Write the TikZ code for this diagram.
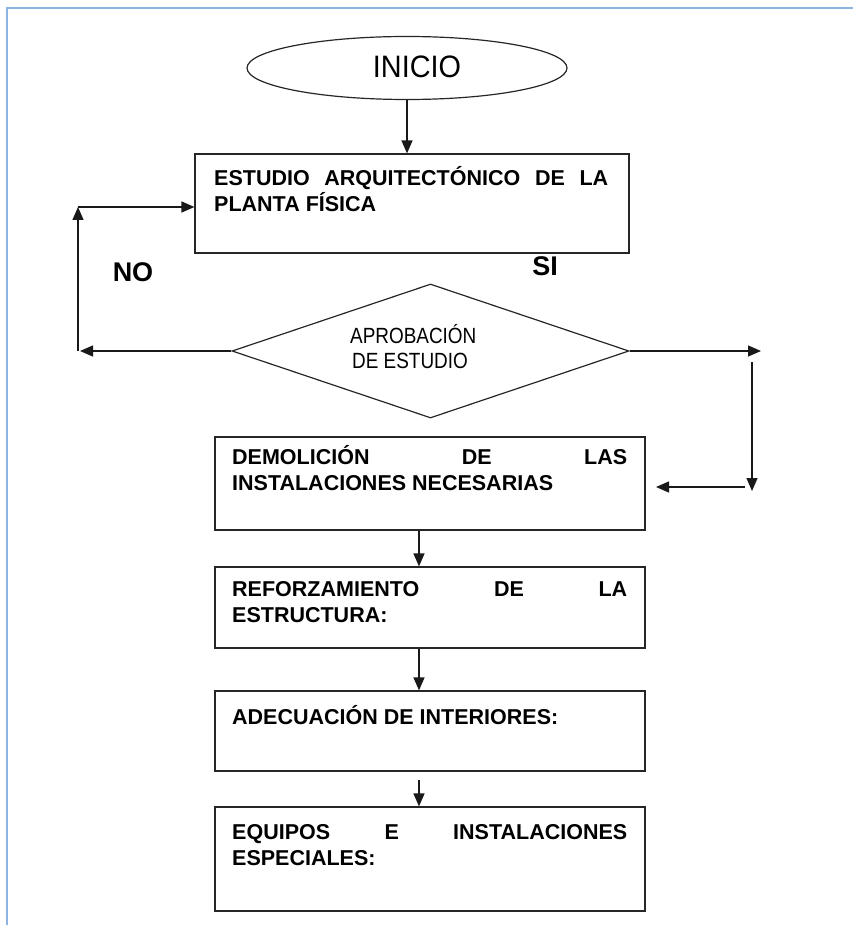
\documentclass[tikz,border=0pt]{standalone}
\usepackage{fontspec}
\setmainfont{Liberation Sans}
\newfontfamily\narrowfont[FakeStretch=0.93]{Liberation Sans}
\newfontfamily\diafont[FakeStretch=0.86]{Liberation Sans}
\usetikzlibrary{shapes.geometric,arrows.meta}
\definecolor{frameblue}{HTML}{8DB4E2}
\begin{document}
\begin{tikzpicture}[x=1pt,y=-1pt,
  shapeline/.style={draw=black!85,line width=1.2pt},
  stepbox/.style={shapeline,rectangle,inner sep=0pt},
  arr/.style={draw=black!90,line width=1.3pt,-{Triangle[length=13pt,width=11pt]}},
  boxtext/.style={anchor=base west,inner sep=0pt,font=\bfseries\fontsize{21.5}{26}\selectfont},
  lbl/.style={inner sep=0pt,font=\bfseries\fontsize{27}{30}\selectfont}]
\useasboundingbox (0,0) rectangle (853,925);
\draw[frameblue,line width=2pt] (7,925) -- (7,8) -- (853,8);
% start
\node[shapeline,ellipse,minimum width=320pt,minimum height=63pt,inner sep=0pt] (e) at (407,68) {};
\node[inner sep=0pt,font=\narrowfont\fontsize{31}{34}\selectfont] (et) at (417,67) {INICIO};
% box 1
\node[stepbox,minimum width=434pt,minimum height=99pt] (b1) at (412,203.5) {};
\node[boxtext] (t1) at (214,186) {\parbox[t]{394pt}{\makebox[394pt][s]{ESTUDIO ARQUITECTÓNICO DE LA}\\PLANTA FÍSICA}};
% decision
\node[shapeline,diamond,minimum width=397pt,minimum height=134pt,inner sep=0pt] (d) at (430.5,351) {};
\node[anchor=base west,inner sep=0pt,font=\diafont\fontsize{22}{25}\selectfont] (dt1) at (350,343) {APROBACIÓN};
\node[anchor=base west,inner sep=0pt,font=\diafont\fontsize{22}{25}\selectfont] (dt2) at (352,368) {DE ESTUDIO};
\node[lbl] (no) at (133,272) {NO};
\node[lbl] (si) at (545,266) {SI};
% boxes
\node[stepbox,minimum width=430pt,minimum height=93pt] (b2) at (430,483.5) {};
\node[boxtext] (t2) at (232,464) {\parbox[t]{395pt}{\makebox[395pt][s]{DEMOLICIÓN DE LAS}\\INSTALACIONES NECESARIAS}};
\node[stepbox,minimum width=430pt,minimum height=81pt] (b3) at (430,607.5) {};
\node[boxtext] (t3) at (232,596) {\parbox[t]{395pt}{\makebox[395pt][s]{REFORZAMIENTO DE LA}\\ESTRUCTURA:}};
\node[stepbox,minimum width=430pt,minimum height=80pt] (b4) at (430,731) {};
\node[boxtext] (t4) at (232,724) {ADECUACIÓN DE INTERIORES:};
\node[stepbox,minimum width=430pt,minimum height=104pt] (b5) at (430,859) {};
\node[boxtext] (t5) at (232,839) {\parbox[t]{395pt}{\makebox[395pt][s]{EQUIPOS E INSTALACIONES}\\ESPECIALES:}};
% connectors
\draw[arr] (e.south) -- (e.south |- b1.north);
\coordinate (l1) at (80,351);
\coordinate (l2) at (78,351);
\coordinate (l3) at (78,207);
\draw[arr] (d.west) -- (l1);
\draw[arr] (l2) -- (l3);
\draw[arr] (l3) -- (l3 -| b1.west);
\coordinate (r1) at (761,351);
\coordinate (r2) at (752,362);
\coordinate (r3) at (752,491);
\coordinate (r4) at (745,487);
\coordinate (r5) at (656,487);
\draw[arr] (d.east) -- (r1);
\draw[arr] (r2) -- (r3);
\draw[arr] (r4) -- (r5);
\draw[arr] ([xshift=-11pt]b2.south) -- ([xshift=-11pt]b3.north);
\draw[arr] ([xshift=-11pt]b3.south) -- ([xshift=-11pt]b4.north);
\draw[arr] ([xshift=-11pt,yshift=-8pt]b4.south) -- ([xshift=-11pt]b5.north);
\end{tikzpicture}
\end{document}
